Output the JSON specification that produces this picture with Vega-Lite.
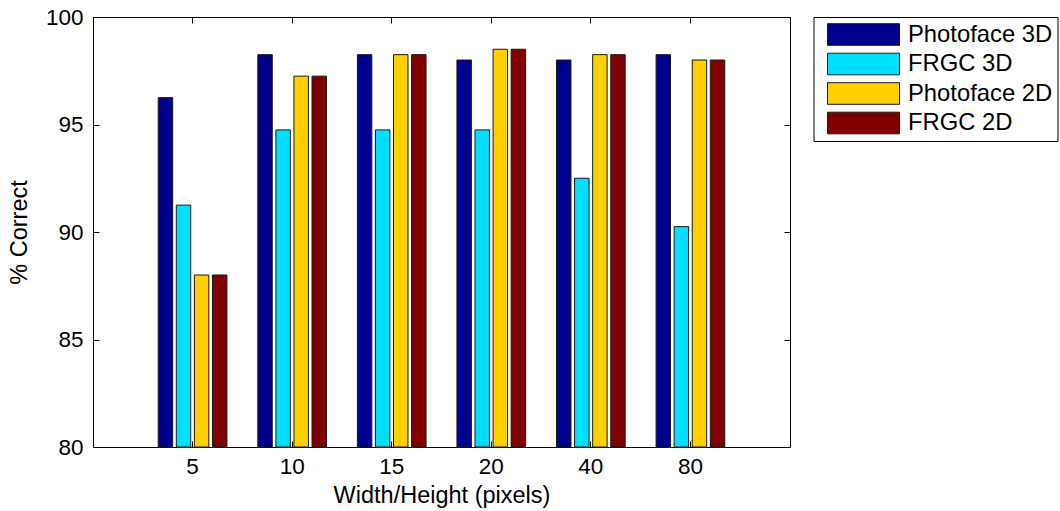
{
  "$schema": "https://vega.github.io/schema/vega-lite/v6.json",
  "width": 697,
  "height": 430,
  "autosize": {"type": "none"},
  "padding": {"left": 93, "top": 17, "right": 270, "bottom": 64},
  "background": "white",
  "config": {
    "font": "Liberation Sans",
    "view": {"stroke": "black", "strokeWidth": 1},
    "axis": {
      "labelFont": "Liberation Sans",
      "labelFontSize": 22.5,
      "labelColor": "black",
      "titleFont": "Liberation Sans",
      "titleFontSize": 23.5,
      "titleFontWeight": "normal",
      "titleColor": "black",
      "tickColor": "black",
      "tickWidth": 1,
      "tickSize": -6,
      "domain": false,
      "grid": false
    }
  },
  "data": {
    "values": [
      {"size": 5, "method": "Photoface 3D", "correct": 96.25},
      {"size": 5, "method": "FRGC 3D", "correct": 91.25},
      {"size": 5, "method": "Photoface 2D", "correct": 88.0},
      {"size": 5, "method": "FRGC 2D", "correct": 88.0},
      {"size": 10, "method": "Photoface 3D", "correct": 98.25},
      {"size": 10, "method": "FRGC 3D", "correct": 94.75},
      {"size": 10, "method": "Photoface 2D", "correct": 97.25},
      {"size": 10, "method": "FRGC 2D", "correct": 97.25},
      {"size": 15, "method": "Photoface 3D", "correct": 98.25},
      {"size": 15, "method": "FRGC 3D", "correct": 94.75},
      {"size": 15, "method": "Photoface 2D", "correct": 98.25},
      {"size": 15, "method": "FRGC 2D", "correct": 98.25},
      {"size": 20, "method": "Photoface 3D", "correct": 98.0},
      {"size": 20, "method": "FRGC 3D", "correct": 94.75},
      {"size": 20, "method": "Photoface 2D", "correct": 98.5},
      {"size": 20, "method": "FRGC 2D", "correct": 98.5},
      {"size": 40, "method": "Photoface 3D", "correct": 98.0},
      {"size": 40, "method": "FRGC 3D", "correct": 92.5},
      {"size": 40, "method": "Photoface 2D", "correct": 98.25},
      {"size": 40, "method": "FRGC 2D", "correct": 98.25},
      {"size": 80, "method": "Photoface 3D", "correct": 98.25},
      {"size": 80, "method": "FRGC 3D", "correct": 90.25},
      {"size": 80, "method": "Photoface 2D", "correct": 98.0},
      {"size": 80, "method": "FRGC 2D", "correct": 98.0}
    ]
  },
  "layer": [
    {
      "mark": {"type": "bar", "stroke": "#1a1a1a", "strokeWidth": 1},
      "encoding": {
        "x": {
          "field": "size",
          "type": "ordinal",
          "scale": {"paddingInner": 0.274, "paddingOuter": 0.637},
          "axis": {"orient": "bottom", "title": "Width/Height (pixels)", "labelAngle": 0, "labelPadding": 14, "titlePadding": 6}
        },
        "xOffset": {
          "field": "method",
          "type": "nominal",
          "sort": ["Photoface 3D", "FRGC 3D", "Photoface 2D", "FRGC 2D"],
          "scale": {"paddingInner": 0.2, "paddingOuter": 0.1}
        },
        "y": {
          "field": "correct",
          "type": "quantitative",
          "scale": {"domain": [80, 100], "zero": false, "nice": false},
          "axis": {"orient": "left", "title": "% Correct", "values": [80, 85, 90, 95, 100], "labelPadding": 16, "titlePadding": 14}
        },
        "y2": {"datum": 80},
        "color": {
          "field": "method",
          "type": "nominal",
          "sort": ["Photoface 3D", "FRGC 3D", "Photoface 2D", "FRGC 2D"],
          "scale": {
            "domain": ["Photoface 3D", "FRGC 3D", "Photoface 2D", "FRGC 2D"],
            "range": ["#00008F", "#00DFFF", "#FFCF00", "#800000"]
          },
          "legend": {
            "title": null,
            "orient": "none",
            "legendX": 720.5,
            "legendY": 0,
            "symbolType": "M-3,-0.9H3V0.9H-3Z",
            "symbolSize": 576,
            "symbolStrokeColor": "#1a1a1a",
            "symbolStrokeWidth": 1,
            "symbolOpacity": 1,
            "symbolOffset": 32.5,
            "labelFont": "Liberation Sans",
            "labelFontSize": 23.8,
            "labelColor": "black",
            "labelOffset": 32,
            "labelLimit": 0,
            "rowPadding": 2.5,
            "padding": 5,
            "strokeColor": "black",
            "fillColor": "white"
          }
        }
      }
    },
    {
      "mark": {"type": "point", "opacity": 0},
      "encoding": {
        "x": {
          "field": "size",
          "type": "ordinal",
          "axis": {"orient": "top", "title": null, "labels": false}
        },
        "y": {
          "field": "correct",
          "type": "quantitative",
          "axis": {"orient": "right", "title": null, "labels": false, "values": [80, 85, 90, 95, 100]}
        }
      }
    }
  ],
  "resolve": {"axis": {"x": "independent", "y": "independent"}}
}
